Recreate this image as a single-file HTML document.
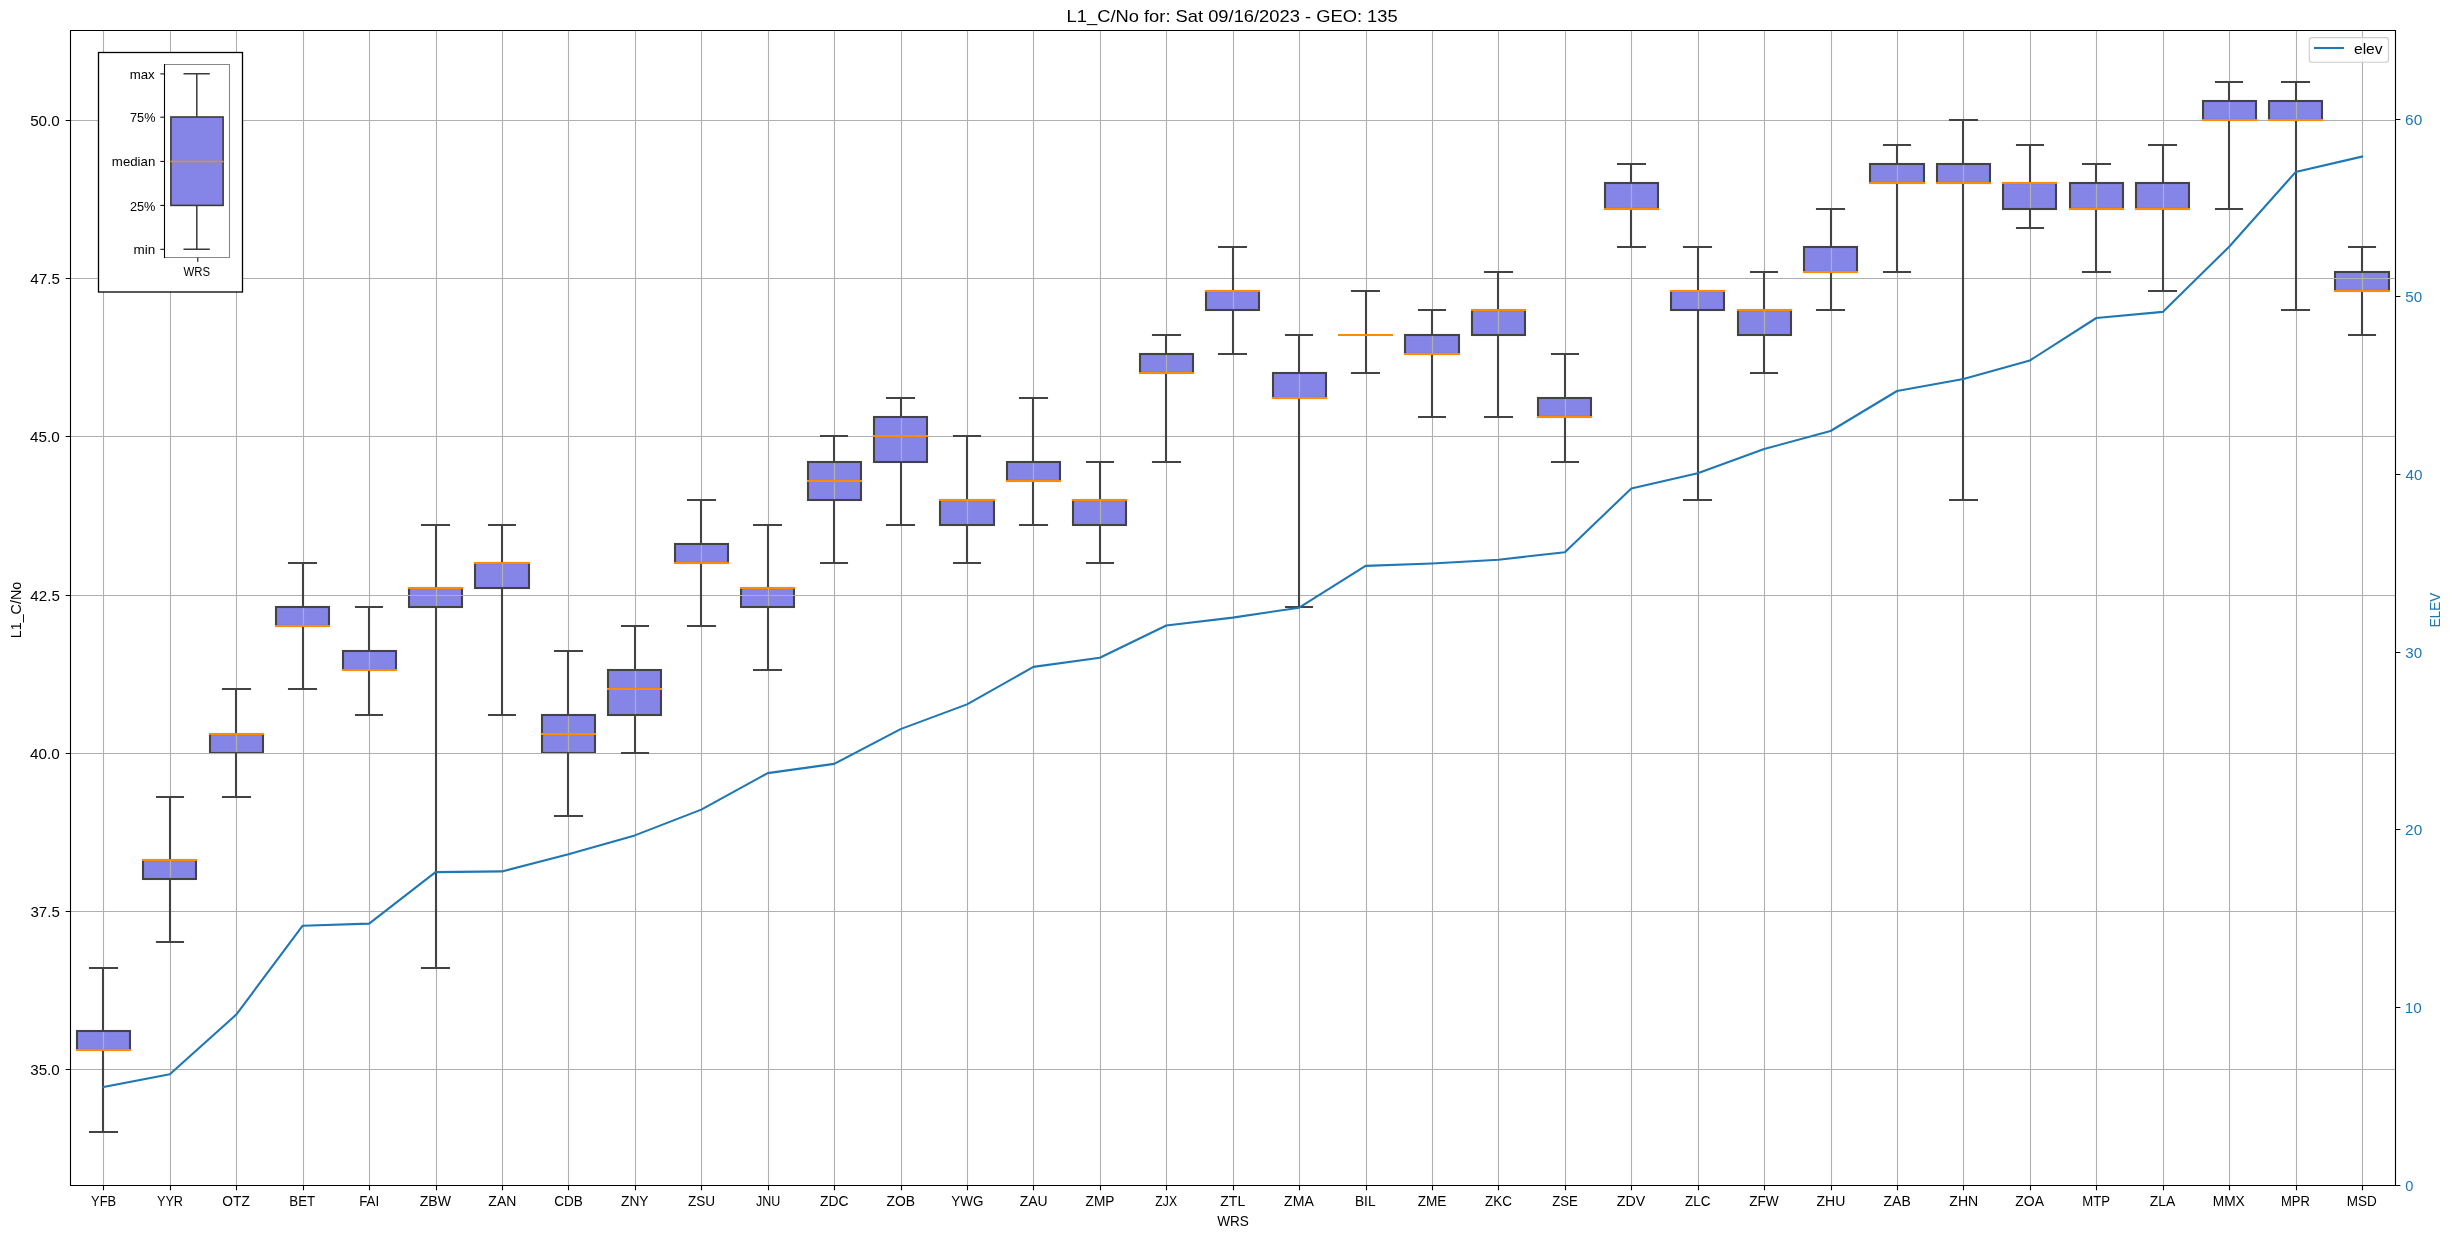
<!DOCTYPE html>
<html><head><meta charset="utf-8"><title>L1_C/No boxplot</title>
<style>html,body{margin:0;padding:0;background:#fff;}body{width:2452px;height:1238px;overflow:hidden;}svg{display:block;will-change:transform;}</style>
</head><body>
<svg width="2452" height="1238" viewBox="0 0 2452 1238" font-family="Liberation Sans, sans-serif">
<rect x="0" y="0" width="2452" height="1238" fill="#fff"/>
<g fill="#8585e8" stroke="#434343" stroke-width="2.08" stroke-linejoin="miter">
<rect x="77" y="1031" width="53" height="19"/>
<rect x="143" y="860" width="53" height="19"/>
<rect x="210" y="734" width="53" height="19"/>
<rect x="276" y="607" width="53" height="19"/>
<rect x="343" y="651" width="53" height="19"/>
<rect x="409" y="588" width="53" height="19"/>
<rect x="475" y="563" width="54" height="25"/>
<rect x="542" y="715" width="53" height="38"/>
<rect x="608" y="670" width="53" height="45"/>
<rect x="675" y="544" width="53" height="19"/>
<rect x="741" y="588" width="53" height="19"/>
<rect x="808" y="462" width="53" height="38"/>
<rect x="874" y="417" width="53" height="45"/>
<rect x="940" y="500" width="54" height="25"/>
<rect x="1007" y="462" width="53" height="19"/>
<rect x="1073" y="500" width="53" height="25"/>
<rect x="1140" y="354" width="53" height="19"/>
<rect x="1206" y="291" width="53" height="19"/>
<rect x="1273" y="373" width="53" height="25"/>
<rect x="1339" y="335" width="53" height="0"/>
<rect x="1405" y="335" width="54" height="19"/>
<rect x="1472" y="310" width="53" height="25"/>
<rect x="1538" y="398" width="53" height="19"/>
<rect x="1605" y="183" width="53" height="26"/>
<rect x="1671" y="291" width="53" height="19"/>
<rect x="1738" y="310" width="53" height="25"/>
<rect x="1804" y="247" width="53" height="25"/>
<rect x="1870" y="164" width="54" height="19"/>
<rect x="1937" y="164" width="53" height="19"/>
<rect x="2003" y="183" width="53" height="26"/>
<rect x="2070" y="183" width="53" height="26"/>
<rect x="2136" y="183" width="53" height="26"/>
<rect x="2203" y="101" width="53" height="19"/>
<rect x="2269" y="101" width="53" height="19"/>
<rect x="2335" y="272" width="54" height="19"/>
</g>
<g stroke="#b0b0b0" stroke-width="1.11" fill="none">
<line x1="103.5" y1="30.5" x2="103.5" y2="1185.5"/>
<line x1="170.5" y1="30.5" x2="170.5" y2="1185.5"/>
<line x1="236.5" y1="30.5" x2="236.5" y2="1185.5"/>
<line x1="303.5" y1="30.5" x2="303.5" y2="1185.5"/>
<line x1="369.5" y1="30.5" x2="369.5" y2="1185.5"/>
<line x1="436.5" y1="30.5" x2="436.5" y2="1185.5"/>
<line x1="502.5" y1="30.5" x2="502.5" y2="1185.5"/>
<line x1="568.5" y1="30.5" x2="568.5" y2="1185.5"/>
<line x1="635.5" y1="30.5" x2="635.5" y2="1185.5"/>
<line x1="701.5" y1="30.5" x2="701.5" y2="1185.5"/>
<line x1="768.5" y1="30.5" x2="768.5" y2="1185.5"/>
<line x1="834.5" y1="30.5" x2="834.5" y2="1185.5"/>
<line x1="901.5" y1="30.5" x2="901.5" y2="1185.5"/>
<line x1="967.5" y1="30.5" x2="967.5" y2="1185.5"/>
<line x1="1033.5" y1="30.5" x2="1033.5" y2="1185.5"/>
<line x1="1100.5" y1="30.5" x2="1100.5" y2="1185.5"/>
<line x1="1166.5" y1="30.5" x2="1166.5" y2="1185.5"/>
<line x1="1233.5" y1="30.5" x2="1233.5" y2="1185.5"/>
<line x1="1299.5" y1="30.5" x2="1299.5" y2="1185.5"/>
<line x1="1366.5" y1="30.5" x2="1366.5" y2="1185.5"/>
<line x1="1432.5" y1="30.5" x2="1432.5" y2="1185.5"/>
<line x1="1498.5" y1="30.5" x2="1498.5" y2="1185.5"/>
<line x1="1565.5" y1="30.5" x2="1565.5" y2="1185.5"/>
<line x1="1631.5" y1="30.5" x2="1631.5" y2="1185.5"/>
<line x1="1698.5" y1="30.5" x2="1698.5" y2="1185.5"/>
<line x1="1764.5" y1="30.5" x2="1764.5" y2="1185.5"/>
<line x1="1831.5" y1="30.5" x2="1831.5" y2="1185.5"/>
<line x1="1897.5" y1="30.5" x2="1897.5" y2="1185.5"/>
<line x1="1963.5" y1="30.5" x2="1963.5" y2="1185.5"/>
<line x1="2030.5" y1="30.5" x2="2030.5" y2="1185.5"/>
<line x1="2096.5" y1="30.5" x2="2096.5" y2="1185.5"/>
<line x1="2163.5" y1="30.5" x2="2163.5" y2="1185.5"/>
<line x1="2229.5" y1="30.5" x2="2229.5" y2="1185.5"/>
<line x1="2296.5" y1="30.5" x2="2296.5" y2="1185.5"/>
<line x1="2362.5" y1="30.5" x2="2362.5" y2="1185.5"/>
<line x1="70.5" y1="1069.5" x2="2395.5" y2="1069.5"/>
<line x1="70.5" y1="911.5" x2="2395.5" y2="911.5"/>
<line x1="70.5" y1="753.5" x2="2395.5" y2="753.5"/>
<line x1="70.5" y1="595.5" x2="2395.5" y2="595.5"/>
<line x1="70.5" y1="436.5" x2="2395.5" y2="436.5"/>
<line x1="70.5" y1="278.5" x2="2395.5" y2="278.5"/>
<line x1="70.5" y1="120.5" x2="2395.5" y2="120.5"/>
</g>
<g stroke="#434343" stroke-width="2.08" stroke-linecap="square" fill="none">
<path d="M103 1050V1132M103 1031V968M90 1132H117M90 968H117"/>
<path d="M170 879V942M170 860V797M157 942H183M157 797H183"/>
<path d="M236 753V797M236 734V689M223 797H250M223 689H250"/>
<path d="M303 626V689M303 607V563M289 689H316M289 563H316"/>
<path d="M369 670V715M369 651V607M356 715H382M356 607H382"/>
<path d="M436 607V968M436 588V525M422 968H449M422 525H449"/>
<path d="M502 588V715M502 563V525M489 715H515M489 525H515"/>
<path d="M568 753V816M568 715V651M555 816H582M555 651H582"/>
<path d="M635 715V753M635 670V626M622 753H648M622 626H648"/>
<path d="M701 563V626M701 544V500M688 626H715M688 500H715"/>
<path d="M768 607V670M768 588V525M754 670H781M754 525H781"/>
<path d="M834 500V563M834 462V436M821 563H847M821 436H847"/>
<path d="M901 462V525M901 417V398M887 525H914M887 398H914"/>
<path d="M967 525V563M967 500V436M954 563H980M954 436H980"/>
<path d="M1033 481V525M1033 462V398M1020 525H1047M1020 398H1047"/>
<path d="M1100 525V563M1100 500V462M1087 563H1113M1087 462H1113"/>
<path d="M1166 373V462M1166 354V335M1153 462H1180M1153 335H1180"/>
<path d="M1233 310V354M1233 291V247M1219 354H1246M1219 247H1246"/>
<path d="M1299 398V607M1299 373V335M1286 607H1312M1286 335H1312"/>
<path d="M1366 335V373M1366 335V291M1352 373H1379M1352 291H1379"/>
<path d="M1432 354V417M1432 335V310M1419 417H1445M1419 310H1445"/>
<path d="M1498 335V417M1498 310V272M1485 417H1512M1485 272H1512"/>
<path d="M1565 417V462M1565 398V354M1552 462H1578M1552 354H1578"/>
<path d="M1631 209V247M1631 183V164M1618 247H1645M1618 164H1645"/>
<path d="M1698 310V500M1698 291V247M1684 500H1711M1684 247H1711"/>
<path d="M1764 335V373M1764 310V272M1751 373H1777M1751 272H1777"/>
<path d="M1831 272V310M1831 247V209M1817 310H1844M1817 209H1844"/>
<path d="M1897 183V272M1897 164V145M1884 272H1910M1884 145H1910"/>
<path d="M1963 183V500M1963 164V120M1950 500H1977M1950 120H1977"/>
<path d="M2030 209V228M2030 183V145M2017 228H2043M2017 145H2043"/>
<path d="M2096 209V272M2096 183V164M2083 272H2110M2083 164H2110"/>
<path d="M2163 209V291M2163 183V145M2149 291H2176M2149 145H2176"/>
<path d="M2229 120V209M2229 101V82M2216 209H2242M2216 82H2242"/>
<path d="M2296 120V310M2296 101V82M2282 310H2309M2282 82H2309"/>
<path d="M2362 291V335M2362 272V247M2349 335H2375M2349 247H2375"/>
</g>
<g stroke="#ff8c00" stroke-width="2.08" stroke-linecap="square" fill="none">
<path d="M77 1050H130"/>
<path d="M143 860H196"/>
<path d="M210 734H263"/>
<path d="M276 626H329"/>
<path d="M343 670H396"/>
<path d="M409 588H462"/>
<path d="M475 563H529"/>
<path d="M542 734H595"/>
<path d="M608 689H661"/>
<path d="M675 563H728"/>
<path d="M741 588H794"/>
<path d="M808 481H861"/>
<path d="M874 436H927"/>
<path d="M940 500H994"/>
<path d="M1007 481H1060"/>
<path d="M1073 500H1126"/>
<path d="M1140 373H1193"/>
<path d="M1206 291H1259"/>
<path d="M1273 398H1326"/>
<path d="M1339 335H1392"/>
<path d="M1405 354H1459"/>
<path d="M1472 310H1525"/>
<path d="M1538 417H1591"/>
<path d="M1605 209H1658"/>
<path d="M1671 291H1724"/>
<path d="M1738 310H1791"/>
<path d="M1804 272H1857"/>
<path d="M1870 183H1924"/>
<path d="M1937 183H1990"/>
<path d="M2003 183H2056"/>
<path d="M2070 209H2123"/>
<path d="M2136 209H2189"/>
<path d="M2203 120H2256"/>
<path d="M2269 120H2322"/>
<path d="M2335 291H2389"/>
</g>
<g stroke="#000" stroke-width="1.11" fill="none" stroke-linecap="square">
<path d="M70.5 30.5V1185.5M2395.5 30.5V1185.5M70.5 30.5H2395.5M70.5 1185.5H2395.5"/>
</g>
<g stroke="#000" stroke-width="1.11" fill="none">
<path d="M103.5 1185.5v4.86M170.5 1185.5v4.86M236.5 1185.5v4.86M303.5 1185.5v4.86M369.5 1185.5v4.86M436.5 1185.5v4.86M502.5 1185.5v4.86M568.5 1185.5v4.86M635.5 1185.5v4.86M701.5 1185.5v4.86M768.5 1185.5v4.86M834.5 1185.5v4.86M901.5 1185.5v4.86M967.5 1185.5v4.86M1033.5 1185.5v4.86M1100.5 1185.5v4.86M1166.5 1185.5v4.86M1233.5 1185.5v4.86M1299.5 1185.5v4.86M1366.5 1185.5v4.86M1432.5 1185.5v4.86M1498.5 1185.5v4.86M1565.5 1185.5v4.86M1631.5 1185.5v4.86M1698.5 1185.5v4.86M1764.5 1185.5v4.86M1831.5 1185.5v4.86M1897.5 1185.5v4.86M1963.5 1185.5v4.86M2030.5 1185.5v4.86M2096.5 1185.5v4.86M2163.5 1185.5v4.86M2229.5 1185.5v4.86M2296.5 1185.5v4.86M2362.5 1185.5v4.86M70.5 1069.5h-4.86M70.5 911.5h-4.86M70.5 753.5h-4.86M70.5 595.5h-4.86M70.5 436.5h-4.86M70.5 278.5h-4.86M70.5 120.5h-4.86M2395.5 1185.5h4.86M2395.5 1007.5h4.86M2395.5 829.5h4.86M2395.5 652.5h4.86M2395.5 474.5h4.86M2395.5 296.5h4.86M2395.5 119.5h4.86"/>
</g>
<polyline points="103.4,1087.1 169.83,1074.3 236.26,1014.6 302.69,925.7 369.12,923.6 435.55,872.1 501.98,871.4 568.41,854.2 634.84,835.4 701.27,809.6 767.7,773.1 834.13,763.9 900.56,729.1 966.99,704.4 1033.42,666.9 1099.85,657.7 1166.28,625.5 1232.71,617.6 1299.14,607.7 1365.57,565.9 1432,563.5 1498.43,559.7 1564.86,552.2 1631.29,488.5 1697.72,473.3 1764.15,449 1830.58,431 1897.01,391 1963.44,379 2029.87,360.5 2096.3,318 2162.73,311.9 2229.16,246.7 2295.59,172.1 2362.02,156.6" fill="none" stroke="#1f77b4" stroke-width="2.08" stroke-linecap="square" stroke-linejoin="round"/>
<text x="1066.62" y="22" font-size="16.95" fill="#000" textLength="331.03" lengthAdjust="spacingAndGlyphs">L1_C/No for: Sat 09/16/2023 - GEO: 135</text>
<text x="91.1" y="1206" font-size="14.72" fill="#000" textLength="25.01" lengthAdjust="spacingAndGlyphs">YFB</text>
<text x="156.93" y="1206" font-size="14.72" fill="#000" textLength="26.11" lengthAdjust="spacingAndGlyphs">YYR</text>
<text x="222.34" y="1206" font-size="14.72" fill="#000" textLength="27.61" lengthAdjust="spacingAndGlyphs">OTZ</text>
<text x="289.37" y="1206" font-size="14.72" fill="#000" textLength="25.86" lengthAdjust="spacingAndGlyphs">BET</text>
<text x="359.13" y="1206" font-size="14.72" fill="#000" textLength="20.11" lengthAdjust="spacingAndGlyphs">FAI</text>
<text x="419.76" y="1206" font-size="14.72" fill="#000" textLength="31.19" lengthAdjust="spacingAndGlyphs">ZBW</text>
<text x="488.33" y="1206" font-size="14.72" fill="#000" textLength="28" lengthAdjust="spacingAndGlyphs">ZAN</text>
<text x="554.14" y="1206" font-size="14.72" fill="#000" textLength="28.56" lengthAdjust="spacingAndGlyphs">CDB</text>
<text x="621.01" y="1206" font-size="14.72" fill="#000" textLength="27.53" lengthAdjust="spacingAndGlyphs">ZNY</text>
<text x="688.01" y="1206" font-size="14.72" fill="#000" textLength="27.14" lengthAdjust="spacingAndGlyphs">ZSU</text>
<text x="755.92" y="1206" font-size="14.72" fill="#000" textLength="24.32" lengthAdjust="spacingAndGlyphs">JNU</text>
<text x="819.92" y="1206" font-size="14.72" fill="#000" textLength="28.5" lengthAdjust="spacingAndGlyphs">ZDC</text>
<text x="886.44" y="1206" font-size="14.72" fill="#000" textLength="28.54" lengthAdjust="spacingAndGlyphs">ZOB</text>
<text x="951.26" y="1206" font-size="14.72" fill="#000" textLength="32.17" lengthAdjust="spacingAndGlyphs">YWG</text>
<text x="1019.8" y="1206" font-size="14.72" fill="#000" textLength="27.87" lengthAdjust="spacingAndGlyphs">ZAU</text>
<text x="1085.53" y="1206" font-size="14.72" fill="#000" textLength="28.93" lengthAdjust="spacingAndGlyphs">ZMP</text>
<text x="1155.36" y="1206" font-size="14.72" fill="#000" textLength="21.71" lengthAdjust="spacingAndGlyphs">ZJX</text>
<text x="1220.25" y="1206" font-size="14.72" fill="#000" textLength="24.95" lengthAdjust="spacingAndGlyphs">ZTL</text>
<text x="1284.06" y="1206" font-size="14.72" fill="#000" textLength="29.73" lengthAdjust="spacingAndGlyphs">ZMA</text>
<text x="1354.99" y="1206" font-size="14.72" fill="#000" textLength="20.5" lengthAdjust="spacingAndGlyphs">BIL</text>
<text x="1417.69" y="1206" font-size="14.72" fill="#000" textLength="28.78" lengthAdjust="spacingAndGlyphs">ZME</text>
<text x="1485.03" y="1206" font-size="14.72" fill="#000" textLength="26.88" lengthAdjust="spacingAndGlyphs">ZKC</text>
<text x="1552.15" y="1206" font-size="14.72" fill="#000" textLength="25.58" lengthAdjust="spacingAndGlyphs">ZSE</text>
<text x="1616.85" y="1206" font-size="14.72" fill="#000" textLength="28.49" lengthAdjust="spacingAndGlyphs">ZDV</text>
<text x="1685" y="1206" font-size="14.72" fill="#000" textLength="25.52" lengthAdjust="spacingAndGlyphs">ZLC</text>
<text x="1749.14" y="1206" font-size="14.72" fill="#000" textLength="29.64" lengthAdjust="spacingAndGlyphs">ZFW</text>
<text x="1816.49" y="1206" font-size="14.72" fill="#000" textLength="28.82" lengthAdjust="spacingAndGlyphs">ZHU</text>
<text x="1883.6" y="1206" font-size="14.72" fill="#000" textLength="27.11" lengthAdjust="spacingAndGlyphs">ZAB</text>
<text x="1949.31" y="1206" font-size="14.72" fill="#000" textLength="28.96" lengthAdjust="spacingAndGlyphs">ZHN</text>
<text x="2015.32" y="1206" font-size="14.72" fill="#000" textLength="28.68" lengthAdjust="spacingAndGlyphs">ZOA</text>
<text x="2082.22" y="1206" font-size="14.72" fill="#000" textLength="27.78" lengthAdjust="spacingAndGlyphs">MTP</text>
<text x="2149.78" y="1206" font-size="14.72" fill="#000" textLength="25.48" lengthAdjust="spacingAndGlyphs">ZLA</text>
<text x="2212.69" y="1206" font-size="14.72" fill="#000" textLength="32.1" lengthAdjust="spacingAndGlyphs">MMX</text>
<text x="2280.9" y="1206" font-size="14.72" fill="#000" textLength="28.92" lengthAdjust="spacingAndGlyphs">MPR</text>
<text x="2346.75" y="1206" font-size="14.72" fill="#000" textLength="30.07" lengthAdjust="spacingAndGlyphs">MSD</text>
<text x="1217.16" y="1225.8" font-size="14.72" fill="#000" textLength="31.65" lengthAdjust="spacingAndGlyphs">WRS</text>
<text x="30.18" y="1075" font-size="14.72" fill="#000" textLength="29.62" lengthAdjust="spacingAndGlyphs">35.0</text>
<text x="30.47" y="917" font-size="14.72" fill="#000" textLength="29.36" lengthAdjust="spacingAndGlyphs">37.5</text>
<text x="30.02" y="759" font-size="14.72" fill="#000" textLength="29.77" lengthAdjust="spacingAndGlyphs">40.0</text>
<text x="30.32" y="601" font-size="14.72" fill="#000" textLength="29.52" lengthAdjust="spacingAndGlyphs">42.5</text>
<text x="30.02" y="442" font-size="14.72" fill="#000" textLength="29.77" lengthAdjust="spacingAndGlyphs">45.0</text>
<text x="30.32" y="284" font-size="14.72" fill="#000" textLength="29.52" lengthAdjust="spacingAndGlyphs">47.5</text>
<text x="30.16" y="126" font-size="14.72" fill="#000" textLength="29.64" lengthAdjust="spacingAndGlyphs">50.0</text>
<text x="2405.33" y="1191" font-size="14.72" fill="#1f77b4" textLength="8.14" lengthAdjust="spacingAndGlyphs">0</text>
<text x="2404.74" y="1013" font-size="14.72" fill="#1f77b4" textLength="16.98" lengthAdjust="spacingAndGlyphs">10</text>
<text x="2405.13" y="835" font-size="14.72" fill="#1f77b4" textLength="17.11" lengthAdjust="spacingAndGlyphs">20</text>
<text x="2405.32" y="658" font-size="14.72" fill="#1f77b4" textLength="16.86" lengthAdjust="spacingAndGlyphs">30</text>
<text x="2405.55" y="480" font-size="14.72" fill="#1f77b4" textLength="17.02" lengthAdjust="spacingAndGlyphs">40</text>
<text x="2405.29" y="302" font-size="14.72" fill="#1f77b4" textLength="16.88" lengthAdjust="spacingAndGlyphs">50</text>
<text x="2405.12" y="125" font-size="14.72" fill="#1f77b4" textLength="17.17" lengthAdjust="spacingAndGlyphs">60</text>
<text transform="translate(21.2,609.75) rotate(-90)" x="-28.5" y="0" font-size="14.72" fill="#000" textLength="56.43" lengthAdjust="spacingAndGlyphs">L1_C/No</text>
<text transform="translate(2440.1,609.5) rotate(-90)" x="-17.76" y="0" font-size="14.72" fill="#1f77b4" textLength="34.48" lengthAdjust="spacingAndGlyphs">ELEV</text>
<rect x="2309.3" y="37.6" width="79.2" height="24.6" rx="2.8" ry="2.8" fill="#fff" fill-opacity="0.8" stroke="#cccccc" stroke-width="1.11"/>
<path d="M2315 48H2343" stroke="#1f77b4" stroke-width="2.08" stroke-linecap="square"/>
<text x="2353.94" y="53.9" font-size="14.72" fill="#000" textLength="28.71" lengthAdjust="spacingAndGlyphs">elev</text>
<rect x="98.5" y="52.5" width="144" height="239.5" fill="#fff" stroke="#000" stroke-width="1.3"/>
<path d="M164.5 64.5H229.5V257.5H164.5" fill="none" stroke="#888" stroke-width="1.1"/>
<rect x="170.9" y="117" width="52.2" height="88.4" fill="#8585e8" stroke="#3a3a3a" stroke-width="1.6"/>
<path d="M196.8 117V73.8M196.8 205.4V249.2M183.5 73.8H209.8M183.5 249.2H209.8" stroke="#3a3a3a" stroke-width="1.5" fill="none"/>
<path d="M170.5 161.4H223.5" stroke="#ff8c00" stroke-width="1.5" fill="none"/>
<path d="M164.5 64V258" stroke="#000" stroke-width="1.1" fill="none"/>
<path d="M164.5 73.9h-4.2M164.5 117.2h-4.2M164.5 161.4h-4.2M164.5 205.4h-4.2M164.5 249.3h-4.2M197.8 257.6v4.3" stroke="#000" stroke-width="1.0" fill="none"/>
<text x="129.76" y="78.9" font-size="12.35" fill="#000" textLength="24.98" lengthAdjust="spacingAndGlyphs">max</text>
<text x="130.03" y="122.3" font-size="12.35" fill="#000" textLength="25.42" lengthAdjust="spacingAndGlyphs">75%</text>
<text x="111.86" y="166.4" font-size="12.35" fill="#000" textLength="43.4" lengthAdjust="spacingAndGlyphs">median</text>
<text x="129.94" y="210.6" font-size="12.35" fill="#000" textLength="25.51" lengthAdjust="spacingAndGlyphs">25%</text>
<text x="133.57" y="254" font-size="12.35" fill="#000" textLength="21.71" lengthAdjust="spacingAndGlyphs">min</text>
<text x="183.55" y="276" font-size="12.35" fill="#000" textLength="26.57" lengthAdjust="spacingAndGlyphs">WRS</text>
</svg>
</body></html>
